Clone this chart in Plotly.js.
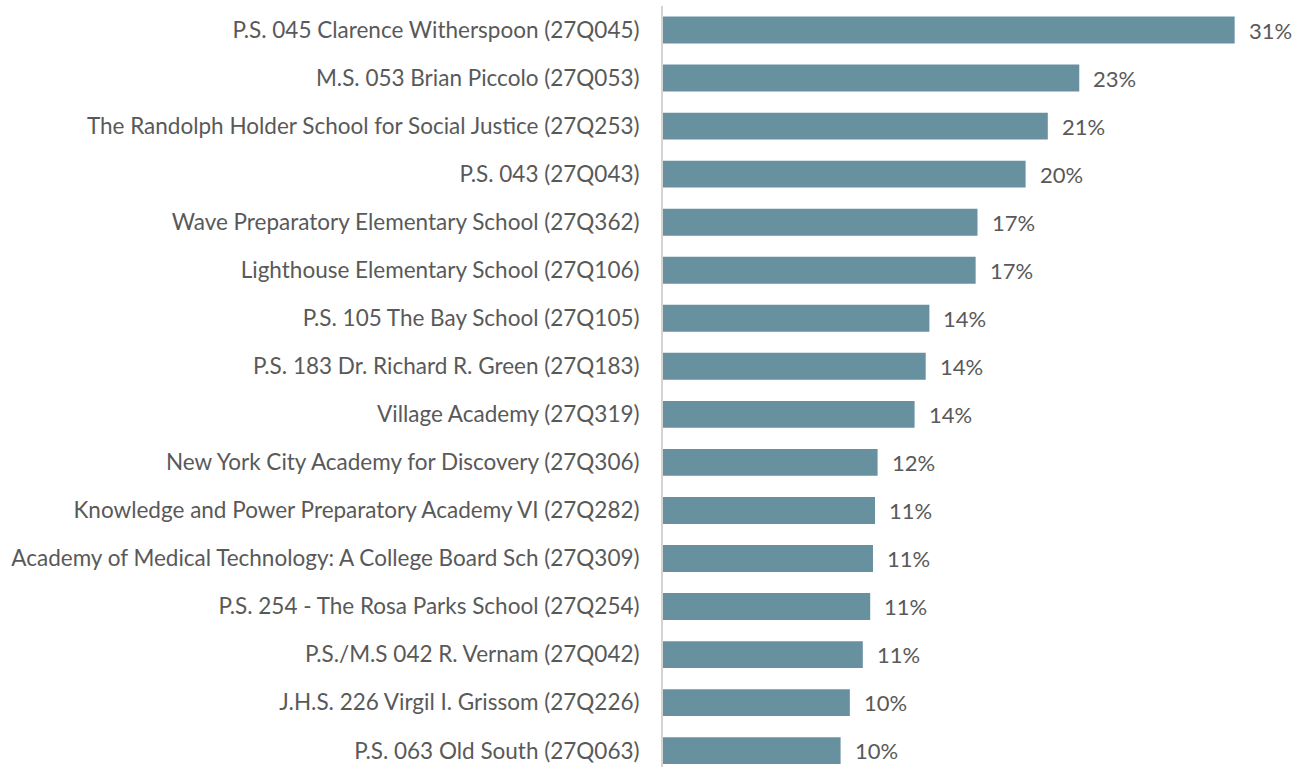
<!DOCTYPE html>
<html><head><meta charset="utf-8">
<script src="https://cdn.plot.ly/plotly-3.0.1.min.js"></script>
<style>html,body{margin:0;padding:0;background:#fff}#chart{width:1302px;height:767px}</style>
</head><body><div id="chart"></div>
<script>
const schools = [
  "P.S. 045 Clarence Witherspoon (27Q045)",
  "M.S. 053 Brian Piccolo (27Q053)",
  "The Randolph Holder School for Social Justice (27Q253)",
  "P.S. 043 (27Q043)",
  "Wave Preparatory Elementary School (27Q362)",
  "Lighthouse Elementary School (27Q106)",
  "P.S. 105 The Bay School (27Q105)",
  "P.S. 183 Dr. Richard R. Green (27Q183)",
  "Village Academy (27Q319)",
  "New York City Academy for Discovery (27Q306)",
  "Knowledge and Power Preparatory Academy VI (27Q282)",
  "Academy of Medical Technology: A College Board Sch (27Q309)",
  "P.S. 254 - The Rosa Parks School (27Q254)",
  "P.S./M.S 042 R. Vernam (27Q042)",
  "J.H.S. 226 Virgil I. Grissom (27Q226)",
  "P.S. 063 Old South (27Q063)"
];
const shares = [0.309, 0.225, 0.208, 0.196, 0.170, 0.169, 0.144, 0.142, 0.136, 0.116, 0.1146, 0.1135, 0.112, 0.108, 0.101, 0.096];

const fontFam = "Lato, 'Open Sans', sans-serif";
const textColor = "#595959";

const annotations = schools.map((s, i) => ({
  x: shares[i], y: s, xref: 'x', yref: 'y',
  text: Math.round(shares[i] * 100) + '%',
  showarrow: false, xanchor: 'left', xshift: 12,
  font: {family: fontFam, size: 22, color: textColor}
}));

const data = [{
  type: 'bar', orientation: 'h',
  x: shares, y: schools,
  marker: {color: '#6891A0', line: {width: 0}},
  hoverinfo: 'none'
}];

const layout = {
  width: 1302, height: 767,
  margin: {l: 663, r: 0, t: 6, b: 0},
  paper_bgcolor: '#fff', plot_bgcolor: '#fff',
  bargap: 0.44,
  showlegend: false,
  xaxis: {range: [0, 0.3454], showgrid: false, zeroline: false, showticklabels: false, showline: false, ticks: ''},
  yaxis: {
    type: 'category', range: [15.34, -0.5],
    showgrid: false, zeroline: false,
    showline: true, linecolor: '#d4d4d4', linewidth: 2,
    ticks: '', ticklabelstandoff: 17,
    tickfont: {family: fontFam, size: 22.5, color: textColor}
  },
  annotations: annotations
};

Plotly.newPlot('chart', data, layout, {staticPlot: true, displayModeBar: false});
</script>
</body></html>
